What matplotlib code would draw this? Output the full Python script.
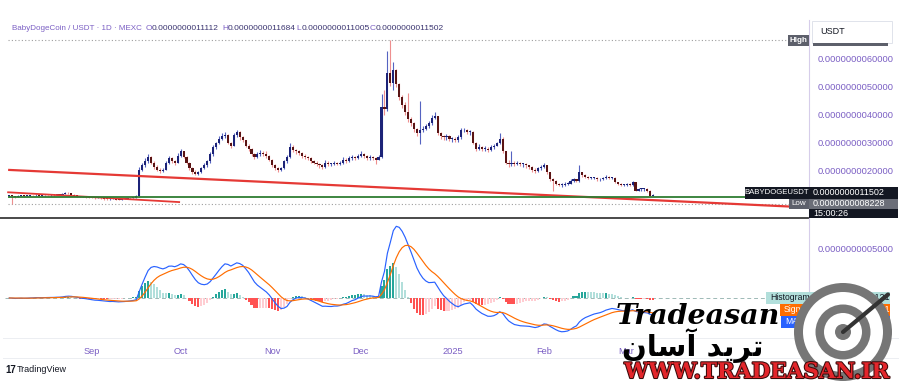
import numpy as np
import pandas as pd
import matplotlib
matplotlib.use('Agg')
import matplotlib.pyplot as plt
from matplotlib.patches import Rectangle, Circle
from matplotlib.lines import Line2D
import matplotlib.patheffects as pe

# ---------------- data (prices in units of 1e-9 USDT) ----------------
start_date = '2024-08-04'
first_open = 1.10
closes = [
    1.12, 1.10, 1.08, 1.12, 1.13, 1.10, 1.12, 1.14, 1.13, 1.15,
    1.12, 1.13, 1.14, 1.13, 1.15, 1.14, 1.16, 1.15, 1.18, 1.22,
    1.20, 1.16, 1.12, 1.10, 1.08, 1.09, 1.07, 1.05, 1.04, 1.03,
    1.05, 1.02, 1.00, 0.99, 1.00, 1.02, 0.98, 0.97, 1.00, 1.01,
    1.02, 1.03, 1.05, 1.10,
    2.05, 2.20, 2.35, 2.50, 2.30, 2.15,
    2.05, 2.00, 2.05, 2.30, 2.45, 2.35, 2.30, 2.55, 2.70, 2.50,
    2.30, 2.10, 1.95, 1.90, 1.95, 2.10, 2.20, 2.35, 2.60, 2.85,
    3.00, 3.15, 3.25, 3.30, 3.00, 2.90, 3.30, 3.40, 3.20, 3.10,
    2.90, 2.80, 2.60, 2.50, 2.60, 2.65, 2.60, 2.55, 2.40, 2.20,
    2.10, 2.05, 2.10, 2.35, 2.50, 2.85, 2.75, 2.70, 2.65, 2.55,
    2.50, 2.45, 2.35, 2.30, 2.25, 2.20, 2.15, 2.30, 2.25,
    2.25, 2.30, 2.25, 2.30, 2.40, 2.35, 2.45, 2.50, 2.45, 2.55,
    2.60, 2.55, 2.45, 2.50, 2.45, 2.40, 2.50,
    4.30, 4.20, 5.50, 5.15, 5.60, 5.10, 4.65, 4.35, 4.10, 3.85,
    3.70, 3.50, 3.35, 3.45, 3.50, 3.60, 3.70, 3.90, 3.95, 3.35,
    3.25, 3.20, 3.25, 3.15, 3.15, 3.10, 3.20, 3.45, 3.45, 3.40, 3.40,
    3.00, 2.80, 2.85, 2.80, 2.80, 2.75, 2.85, 2.90, 3.00, 3.15, 2.70,
    2.30, 2.25, 2.30, 2.25, 2.30, 2.25, 2.25, 2.20, 2.15, 2.05,
    2.00, 2.10, 2.15, 2.20, 1.95, 1.70, 1.65, 1.55, 1.50, 1.50,
    1.55, 1.55, 1.65, 1.70, 1.65, 1.95, 1.85, 1.80, 1.75, 1.75,
    1.75, 1.70, 1.70, 1.75, 1.80, 1.75, 1.75, 1.60, 1.55, 1.50,
    1.50, 1.55, 1.50, 1.60, 1.30, 1.35, 1.35, 1.35, 1.30, 1.1112, 1.1502,
]
highs = [
    1.15, 1.13, 1.12, 1.14, 1.16, 1.14, 1.15, 1.16, 1.16, 1.17,
    1.16, 1.15, 1.16, 1.16, 1.17, 1.17, 1.18, 1.18, 1.21, 1.26,
    1.24, 1.21, 1.17, 1.13, 1.11, 1.11, 1.10, 1.08, 1.07, 1.06,
    1.07, 1.06, 1.03, 1.02, 1.03, 1.04, 1.03, 1.00, 1.02, 1.03,
    1.04, 1.05, 1.07, 1.13,
    2.15, 2.30, 2.45, 2.60, 2.52, 2.35,
    2.20, 2.10, 2.12, 2.35, 2.55, 2.50, 2.40, 2.65, 2.80, 2.72,
    2.52, 2.32, 2.15, 2.02, 2.00, 2.15, 2.28, 2.40, 2.68, 2.92,
    3.05, 3.25, 3.35, 3.40, 3.32, 3.05, 3.35, 3.48, 3.42, 3.25,
    3.12, 2.95, 2.82, 2.65, 2.68, 2.75, 2.70, 2.70, 2.58, 2.42,
    2.25, 2.15, 2.15, 2.40, 2.58, 3.00, 2.92, 2.80, 2.75, 2.68,
    2.60, 2.55, 2.50, 2.40, 2.35, 2.30, 2.25, 2.38, 2.35,
    2.30, 2.36, 2.32, 2.35, 2.50, 2.45, 2.52, 2.58, 2.55, 2.62,
    2.70, 2.65, 2.58, 2.56, 2.55, 2.50, 2.58,
    4.75, 4.90, 6.30, 6.68, 5.90, 5.65, 5.15, 4.70, 4.45, 4.80,
    3.92, 3.75, 3.55, 4.50, 3.62, 3.68, 3.80, 4.00, 4.10, 3.98,
    3.38, 3.30, 3.32, 3.28, 3.22, 3.20, 3.30, 3.55, 3.52, 3.50, 3.48,
    3.42, 3.05, 2.95, 2.90, 2.88, 2.85, 2.92, 2.98, 3.05, 3.35, 3.20,
    2.72, 2.38, 2.70, 2.35, 2.35, 2.32, 2.30, 2.28, 2.22, 2.18,
    2.10, 2.15, 2.22, 2.28, 2.22, 1.98, 1.75, 1.68, 1.58, 1.56,
    1.60, 1.62, 1.70, 1.76, 1.72, 2.20, 1.98, 1.88, 1.82, 1.80,
    1.80, 1.78, 1.75, 1.78, 1.85, 1.82, 1.80, 1.78, 1.62, 1.58,
    1.55, 1.58, 1.58, 1.64, 1.62, 1.40, 1.40, 1.38, 1.38, 1.32, 1.1684,
]
lows = [
    1.08, 0.8228, 1.05, 1.06, 1.10, 1.08, 1.09, 1.11, 1.10, 1.12,
    1.10, 1.11, 1.12, 1.11, 1.12, 1.12, 1.13, 1.13, 1.14, 1.17,
    1.17, 1.14, 1.10, 1.07, 1.06, 1.06, 1.05, 1.03, 1.02, 1.01,
    1.02, 1.00, 0.98, 0.96, 0.97, 0.99, 0.96, 0.95, 0.96, 0.99,
    1.00, 1.01, 1.02, 1.04,
    1.08, 2.00, 2.15, 2.30, 2.25, 2.08,
    2.00, 1.94, 1.98, 2.02, 2.25, 2.28, 2.22, 2.28, 2.50, 2.45,
    2.25, 2.05, 1.88, 1.84, 1.85, 1.92, 2.08, 2.15, 2.30, 2.55,
    2.80, 2.95, 3.10, 3.18, 2.95, 2.82, 2.88, 3.22, 3.12, 3.02,
    2.85, 2.72, 2.52, 2.44, 2.45, 2.55, 2.52, 2.48, 2.35, 2.15,
    2.05, 1.98, 2.00, 2.08, 2.30, 2.45, 2.68, 2.62, 2.58, 2.48,
    2.42, 2.38, 2.30, 2.25, 2.18, 2.12, 2.08, 2.12, 2.18,
    2.18, 2.20, 2.20, 2.22, 2.25, 2.30, 2.32, 2.40, 2.40, 2.42,
    2.50, 2.48, 2.40, 2.40, 2.38, 2.25, 2.38,
    2.45, 4.00, 4.15, 5.05, 4.90, 5.00, 4.55, 4.25, 4.00, 3.75,
    3.60, 3.40, 3.25, 2.95, 3.38, 3.45, 3.55, 3.65, 3.85, 3.28,
    3.15, 3.10, 3.12, 3.08, 3.05, 3.02, 3.05, 3.15, 3.38, 3.32, 3.30,
    2.95, 2.72, 2.75, 2.72, 2.70, 2.68, 2.72, 2.80, 2.88, 2.95, 2.65,
    2.25, 2.15, 2.18, 2.18, 2.20, 2.18, 2.15, 2.12, 2.08, 1.98,
    1.92, 1.96, 2.05, 2.10, 1.90, 1.66, 1.30, 1.50, 1.45, 1.44,
    1.46, 1.50, 1.52, 1.62, 1.60, 1.62, 1.80, 1.74, 1.70, 1.70,
    1.70, 1.66, 1.65, 1.68, 1.72, 1.70, 1.70, 1.56, 1.50, 1.46,
    1.45, 1.48, 1.46, 1.48, 1.28, 1.28, 1.30, 1.30, 1.26, 1.09, 1.1005,
]
price_ticks = [2, 3, 4, 5, 6]
price_tick_labels = ['0.0000000020000', '0.0000000030000', '0.0000000040000',
                     '0.0000000050000', '0.0000000060000']
macd_ticks = [0.5]
macd_tick_labels = ['0.0000000005000']
month_labels = ['Sep', 'Oct', 'Nov', 'Dec', '2025', 'Feb', 'Mar']
trend_long_x, trend_long_y = [-0.4, 270.4], [2.04, 0.70]
trend_short_x, trend_short_y = [-0.4, 57.5], [1.24, 0.89]
support_level = 1.07
header_title = 'BabyDogeCoin / USDT \u00b7 1D \u00b7 MEXC'
header_ohlc = [('O', '0.0000000011112'), ('H', '0.0000000011684'),
               ('L', '0.0000000011005'), ('C', '0.0000000011502')]
last_label = '0.0000000011502'
low_label = '0.0000000008228'
countdown = '15:00:26'
hist_label, signal_label, macd_label = '-0.0000000000121', '-0.0000000001441', '-0.0000000001562'

# ---------------- figure ----------------
W, H = 900, 383
plt.rcParams['font.family'] = ['Liberation Sans', 'DejaVu Sans']
fig = plt.figure(figsize=(W / 100, H / 100), dpi=100)
fig.patch.set_facecolor('white')

def fx(x):
    return x / W

def fy(y):
    return 1 - y / H

PURPLE = '#7b5fc4'
n = len(closes)
x = np.arange(n)
c = np.array(closes)
o = np.array([first_open] + closes[:-1])
hi = np.maximum(np.array(highs), np.maximum(o, c))
lo = np.minimum(np.array(lows), np.minimum(o, c))
up = c >= o
dates = pd.date_range(start_date, periods=n, freq='D')
month_pos = [i for i, d in enumerate(dates) if d.day == 1]

X0, X1 = 5, 808
xl = ((X0 - 9.3) / 2.954, (X1 - 9.3) / 2.954)

ax1 = fig.add_axes([fx(X0), fy(217), fx(X1) - fx(X0), fy(35) - fy(217)])
ax2 = fig.add_axes([fx(X0), fy(336), fx(X1) - fx(X0), fy(219) - fy(336)])
for ax in (ax1, ax2):
    ax.set_xlim(*xl)
    for s in ax.spines.values():
        s.set_visible(False)
    ax.set_facecolor('none')
ax1.set_ylim((227 - 217) / 28, (227 - 35) / 28)
ax2.set_ylim((298 - 336) / 100, (298 - 219) / 100)

# candles
ax1.vlines(x[up], lo[up], hi[up], color='#5563c1', lw=0.8, zorder=3)
ax1.vlines(x[~up], lo[~up], hi[~up], color='#ee8f8f', lw=0.8, zorder=3)
body_col = np.where(up, '#1c2378', '#5a1414')
ax1.bar(x, np.maximum(np.abs(c - o), 0.03), bottom=np.minimum(o, c), width=0.72,
        color=body_col, linewidth=0, zorder=4)

# drawings
ax1.plot(trend_long_x, trend_long_y, color='#e53935', lw=1.6, zorder=5, solid_capstyle='butt')
ax1.plot(trend_short_x, trend_short_y, color='#e53935', lw=1.3, zorder=5)
ax1.hlines(support_level, -0.4, xl[1], color='#2e7d32', lw=1.3, zorder=5)
xend = (790 - 9.3) / 2.954
ax1.hlines(hi.max(), -0.4, xend, color='#9e9e9e', lw=0.8, linestyles=(0, (1, 2)), zorder=2)
ax1.hlines(lo.min(), -0.4, xend, color='#9e9e9e', lw=0.8, linestyles=(0, (1, 2)), zorder=2)

# MACD (12, 26, 9) from the closes
s = pd.Series(closes)
macd = s.ewm(span=12, adjust=False).mean() - s.ewm(span=26, adjust=False).mean()
signal = macd.ewm(span=9, adjust=False).mean()
hist = (macd - signal).values
prev = np.concatenate([[hist[0]], hist[:-1]])
hcol = np.where(hist >= 0, np.where(hist > prev, '#26a69a', '#b2dfdb'),
                np.where(hist > prev, '#ffcdd2', '#ff5252'))
ax2.axhline(0, color='#9db9b6', lw=0.7, ls=(0, (4, 3)), zorder=1)
ax2.bar(x, hist, width=0.7, color=hcol, linewidth=0, zorder=2)
ax2.plot(x, macd.values, color='#2962ff', lw=0.85, zorder=3)
ax2.plot(x, signal.values, color='#ff6d00', lw=0.85, zorder=3)

# axes ticks
ax1.yaxis.tick_right()
ax1.set_yticks(price_ticks)
ax1.set_yticklabels(price_tick_labels)
ax2.yaxis.tick_right()
ax2.set_yticks(macd_ticks)
ax2.set_yticklabels(macd_tick_labels)
for ax in (ax1, ax2):
    ax.tick_params(axis='y', length=0, pad=7, labelsize=6.7, labelcolor=PURPLE)
ax1.set_xticks([])
ax2.set_xticks(month_pos)
ax2.set_xticklabels(month_labels)
ax2.tick_params(axis='x', length=0, pad=8, labelsize=6.7, labelcolor=PURPLE)

# pane separators
fig.add_artist(Line2D([fx(0), fx(X1)], [fy(217.5), fy(217.5)], color='#4a4a4a', lw=1.4))
fig.add_artist(Line2D([fx(809), fx(809)], [fy(20), fy(337)], color='#d6cdea', lw=0.8))
fig.add_artist(Line2D([fx(3), fx(898)], [fy(337.5), fy(337.5)], color='#eceef2', lw=0.7))
fig.add_artist(Line2D([fx(3), fx(898)], [fy(358), fy(358)], color='#eceef2', lw=0.7))

def box(x0, y0, x1, y1, fc, ec=None, lw=0.0, z=6):
    fig.add_artist(Rectangle((fx(x0), fy(y1)), fx(x1) - fx(x0), fy(y0) - fy(y1),
                             transform=fig.transFigure, facecolor=fc,
                             edgecolor=ec if ec else fc, lw=lw, zorder=z))

def txt(xp, yp, t, color='#131722', size=6.5, ha='left', z=7, **kw):
    fig.text(fx(xp), fy(yp), t, color=color, fontsize=size, ha=ha, va='center', zorder=z, **kw)

# header
txt(12, 28.5, header_title, color=PURPLE, size=5.8)
hx = [146, 222, 296, 370]
for (lab, val), xx in zip(header_ohlc, hx):
    txt(xx, 28.5, lab, color=PURPLE, size=6.0)
    txt(xx + 5.5, 28.5, val, color='#3a3470', size=6.0)

# right axis header
box(812, 21, 892, 43, 'white', ec='#e0e3eb', lw=0.7)
box(813, 43, 888, 45.5, '#5d606b')
txt(820, 31, 'USDT', size=6.5)

# price labels
box(788, 34.5, 809, 45.5, '#5d606b')
txt(798.5, 40, 'High', color='white', size=5.8, ha='center', weight='bold')
box(745, 186.5, 809, 198.5, '#131722')
txt(777, 192.5, 'BABYDOGEUSDT', color='white', size=5.6, ha='center')
box(809, 186.5, 898, 198.5, '#131722')
txt(813, 192.5, last_label, color='white', size=6.5)
box(789, 198.5, 809, 208.5, '#5d606b')
txt(799, 203.5, 'Low', color='white', size=5.8, ha='center')
box(809, 198.5, 898, 208.5, '#6b6e78')
txt(813, 203.5, low_label, color='white', size=6.5)
box(809, 208.5, 898, 218, '#131722')
txt(813, 213, countdown, color='white', size=6.5)

# MACD labels
box(766, 292, 890, 304, '#b2dfdb')
txt(770, 298, 'Histogram', size=6.2)
txt(815, 298, hist_label, size=6.5)
box(780, 304, 890, 316, '#ff6d00')
txt(784, 310, 'Signal', color='white', size=6.2)
txt(815, 310, signal_label, color='white', size=6.5)
box(781, 316, 890, 328, '#2962ff')
txt(785, 322, 'MACD', color='white', size=6.2)
txt(815, 322, macd_label, color='white', size=6.5)

# footer
txt(5, 370, '17', color='#131722', size=7, weight='bold', z=8)
txt(17, 370, 'TradingView', color='#131722', size=6.5, z=8)

# watermark
fig.text(fx(698), fy(316), 'Tradeasan', family='DejaVu Serif', fontweight='bold',
         style='italic', fontsize=20.5, color='black', ha='center', va='center', zorder=20)
persian = '\uFEE5\uFE8E\uFEB3\uFE81 \uFEAA\uFEF3\uFEAE\uFE97'
fig.text(fx(693), fy(346), persian, family='DejaVu Sans', fontweight='bold',
         fontsize=21, color='black', ha='center', va='center', zorder=20)
fig.text(fx(757), fy(372), 'WWW.TRADEASAN.IR', family='DejaVu Serif', fontweight='bold',
         fontsize=15.5, color='#e3262b', ha='center', va='center', zorder=20,
         path_effects=[pe.withStroke(linewidth=1.5, foreground='#3a0a0a')])
iax = fig.add_axes([fx(793), fy(382), fx(100), fy(282) - fy(382)], zorder=19)
iax.set_xlim(-1, 1)
iax.set_ylim(-1, 1)
iax.set_aspect('equal')
iax.axis('off')
iax.add_patch(Circle((0, 0), 0.98, facecolor='#767676', edgecolor='none'))
iax.add_patch(Circle((0, 0), 0.80, facecolor='white', edgecolor='none'))
iax.add_patch(Circle((0, 0), 0.55, facecolor='#767676', edgecolor='none'))
iax.add_patch(Circle((0, 0), 0.38, facecolor='white', edgecolor='none'))
iax.add_patch(Circle((0, 0), 0.16, facecolor='#767676', edgecolor='none'))
iax.plot([0, 0.9], [0, 0.75], color='#333333', lw=3, solid_capstyle='round')

fig.savefig('out.png', dpi=100, facecolor='white')
